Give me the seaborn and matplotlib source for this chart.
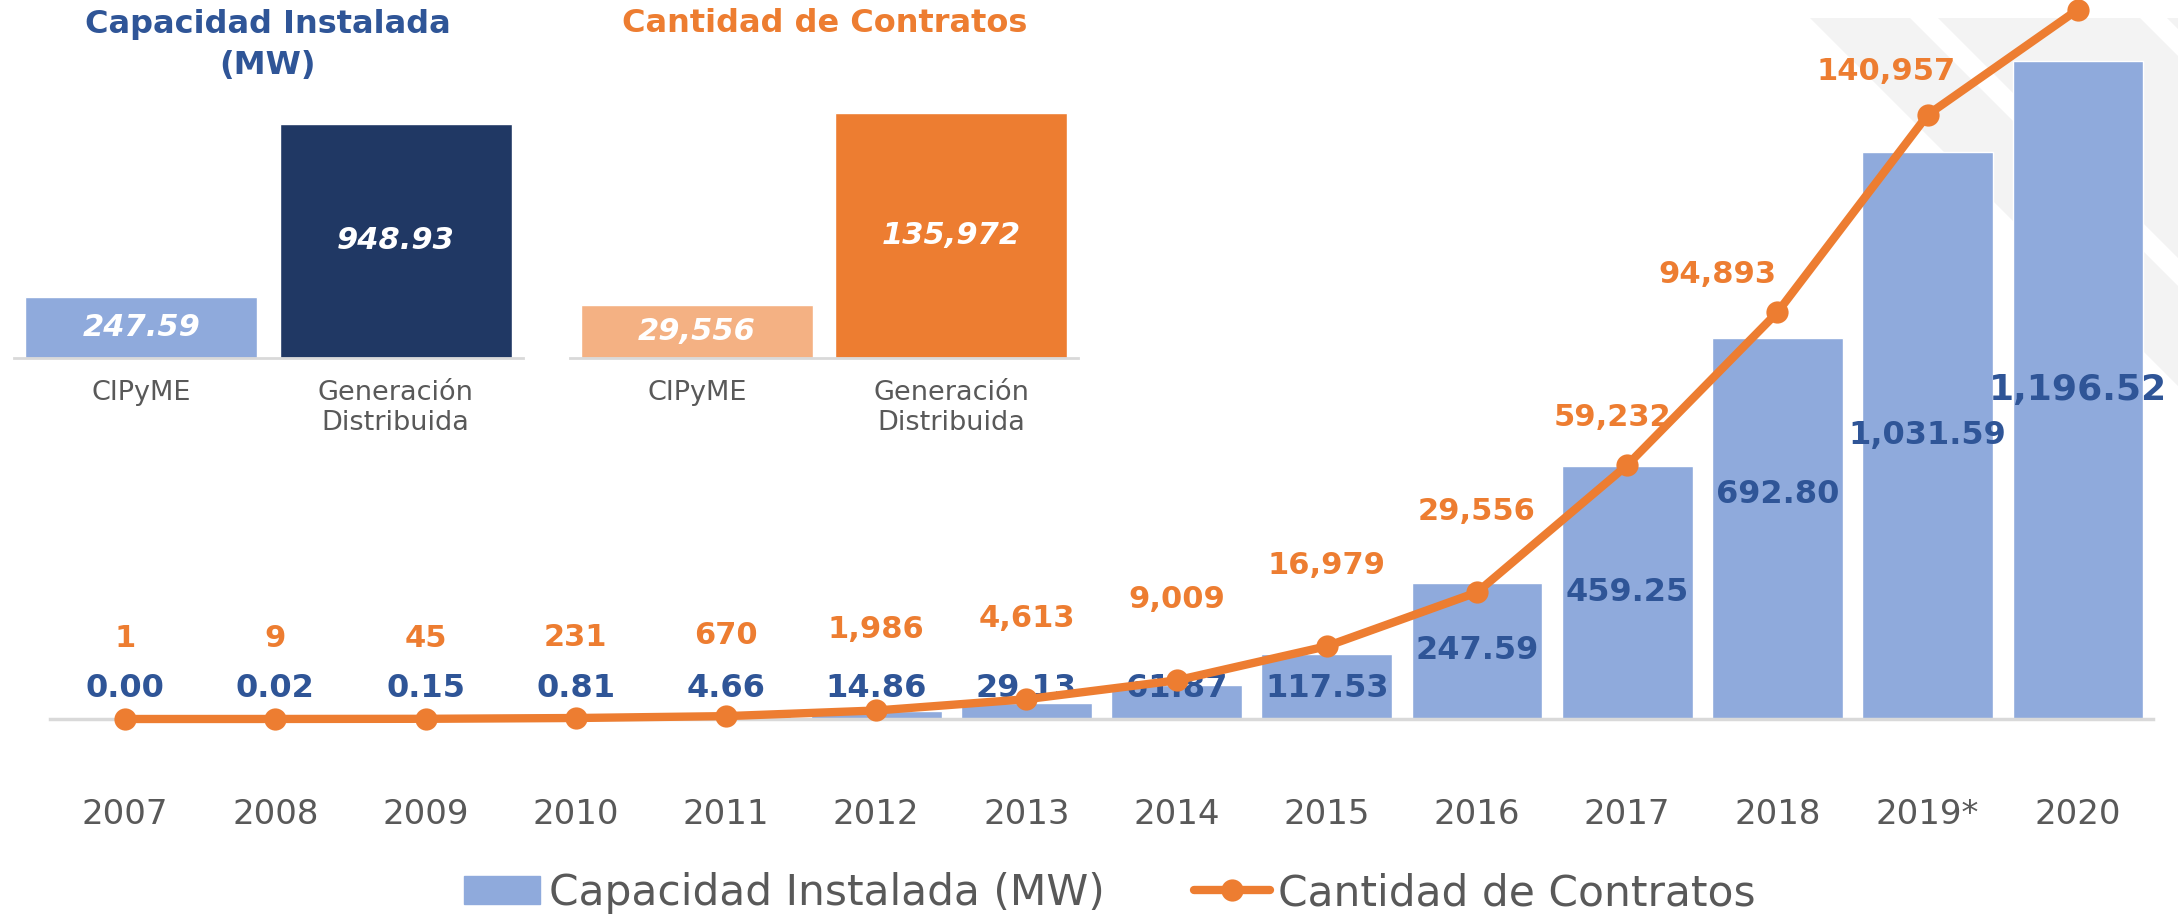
import numpy as np
import seaborn as sns
import matplotlib.pyplot as plt
from matplotlib.patches import Patch, Polygon
from matplotlib.lines import Line2D

## Data ##

years = ['2007', '2008', '2009', '2010', '2011', '2012', '2013',
         '2014', '2015', '2016', '2017', '2018', '2019*', '2020']
capacity = [0.00, 0.02, 0.15, 0.81, 4.66, 14.86, 29.13,
            61.87, 117.53, 247.59, 459.25, 692.80, 1031.59, 1196.52]
contracts = [1, 9, 45, 231, 670, 1986, 4613,
             9009, 16979, 29556, 59232, 94893, 140957, 165528]

split_cats = ['CIPyME', 'Generación\nDistribuida']
split_capacity = [247.59, 948.93]
split_contracts = [29556, 135972]

## Colours ##

BLUE_LIGHT = '#8faadc'
NAVY = '#203864'
BLUE_TEXT = '#2f5597'
ORANGE = '#ed7d31'
ORANGE_LIGHT = '#f4b183'
GRAY = '#595959'
AXIS = '#d9d9d9'

sns.set_style('white')
plt.rcParams['font.family'] = ['DejaVu Sans']

W, H = 2178, 922
fig = plt.figure(figsize=(W / 100, H / 100), dpi=100)


def rect(x0, y_top, x1, y_bot):
    # pixel box (y measured from the top) -> figure fraction
    return [x0 / W, 1 - y_bot / H, (x1 - x0) / W, (y_bot - y_top) / H]


# decorative stripes in the top-right corner
for pts in [[(1810, 18), (1910, 18), (2178, 286), (2178, 386)],
            [(1938, 18), (2140, 18), (2178, 56), (2178, 258)],
            [(2167, 18), (2178, 18), (2178, 29)]]:
    poly = Polygon([(x / W, 1 - y / H) for x, y in pts], closed=True,
                   transform=fig.transFigure, color='#f3f3f3', zorder=-5, lw=0)
    fig.add_artist(poly)

## Main chart ##

ax = fig.add_axes(rect(50, 0, 2153, 719))
ax.set_facecolor('none')
sns.barplot(x=years, y=capacity, color=BLUE_LIGHT, saturation=1, width=0.87, ax=ax)
ax.set_ylim(0, 1307)
ax.set_xlim(-0.5, len(years) - 0.5)
for i, v in enumerate(capacity):
    big = i == len(capacity) - 1
    if v < 200:
        y = 55
    elif i == 11:
        y = v * 0.59
    else:
        y = v / 2
    ax.text(i, y, f'{v:,.2f}', ha='center', va='center', color=BLUE_TEXT,
            fontsize=26 if big else 23, fontweight='bold')

ax2 = ax.twinx()
sns.lineplot(x=np.arange(len(years)), y=contracts, ax=ax2, color=ORANGE,
             linewidth=6, marker='o', markersize=16, markeredgewidth=0, clip_on=False)
ax2.set_ylim(0, 167750)
ax.set_xlim(-0.5, len(years) - 0.5)

nudges = {10: (-11, 34), 11: (-43, 27), 12: (-30, 31)}
for i, v in enumerate(contracts[:-1]):
    dx, dy = nudges.get(i, (0, 58))
    ax2.annotate(f'{v:,}', (i, v), xytext=(dx, dy), textcoords='offset points',
                 ha='center', va='center', color=ORANGE, fontsize=22, fontweight='bold')

for a in (ax, ax2):
    a.set_xlabel('')
    a.set_ylabel('')
    a.set_yticks([])
    for s in ('top', 'left', 'right'):
        a.spines[s].set_visible(False)
ax2.spines['bottom'].set_visible(False)
ax.spines['bottom'].set_color(AXIS)
ax.spines['bottom'].set_linewidth(2.5)
ax.set_xticks(np.arange(-0.5, len(years), 1), minor=True)
ax.tick_params(axis='x', which='minor', length=10, width=1.5, color=AXIS, direction='out')
ax.tick_params(axis='x', which='major', length=0, pad=57, labelsize=24.5, labelcolor=GRAY)

## Small split charts ##


def split_chart(box, values, colors, ymax, fmt):
    a = fig.add_axes(rect(*box))
    a.set_facecolor('none')
    sns.barplot(x=split_cats, y=values, hue=split_cats, palette=colors,
                saturation=1, width=0.91, legend=False, ax=a)
    a.set_ylim(0, ymax)
    a.set_xlim(-0.5, 1.5)
    for i, v in enumerate(values):
        a.text(i, v / 2, fmt.format(v), ha='center', va='center', color='white',
               fontsize=22, fontweight='bold', fontstyle='italic')
    a.set_xlabel('')
    a.set_ylabel('')
    a.set_yticks([])
    for s in ('top', 'left', 'right'):
        a.spines[s].set_visible(False)
    a.spines['bottom'].set_color(AXIS)
    a.spines['bottom'].set_linewidth(2)
    a.set_xticks([-0.5, 0.5, 1.5], minor=True)
    a.tick_params(axis='x', which='minor', length=7, width=1.5, color=AXIS, direction='out')
    a.tick_params(axis='x', which='major', length=0, pad=16, labelsize=19.5, labelcolor=GRAY)
    for lbl in a.get_xticklabels():
        lbl.set_linespacing(1.2)
    return a


split_chart((14, 110, 523, 358), split_capacity, [BLUE_LIGHT, NAVY], 1005.7, '{:.2f}')
split_chart((570, 110, 1078, 358), split_contracts, [ORANGE_LIGHT, ORANGE], 137600, '{:,}')

fig.text(268 / W, 1 - 45 / H, 'Capacidad Instalada\n(MW)', ha='center', va='center',
         color=BLUE_TEXT, fontsize=23, fontweight='bold', linespacing=1.45)
fig.text(825 / W, 1 - 24 / H, 'Cantidad de Contratos', ha='center', va='center',
         color=ORANGE, fontsize=23, fontweight='bold')

## Legend ##

handles = [Patch(color=BLUE_LIGHT),
           Line2D([], [], color=ORANGE, lw=6, marker='o', markersize=16, markeredgewidth=0)]
fig.legend(handles, ['Capacidad Instalada (MW)', 'Cantidad de Contratos'],
           loc='center', bbox_to_anchor=(1110 / W, 1 - 893 / H), ncol=2, frameon=False,
           fontsize=30.5, labelcolor=GRAY, handlelength=1.8, handleheight=0.65,
           handletextpad=0.2, columnspacing=2.1)

fig.savefig('out.png', dpi=100)
